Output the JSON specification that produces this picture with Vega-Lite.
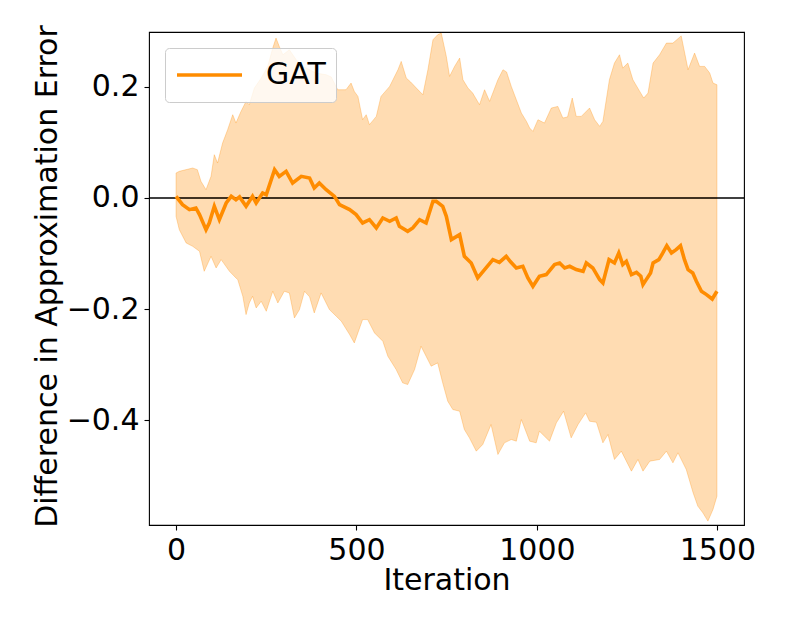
{
  "$schema": "https://vega.github.io/schema/vega-lite/v6.json",
  "width": 595,
  "height": 493,
  "autosize": {"type": "none"},
  "padding": {"left": 149, "top": 32, "right": 45, "bottom": 106},
  "background": "white",
  "config": {
    "font": "DejaVu Sans",
    "view": {"stroke": "black", "strokeWidth": 1.1},
    "axis": {
      "labelFont": "DejaVu Sans", "labelFontSize": 30, "labelColor": "black",
      "titleFont": "DejaVu Sans", "titleFontSize": 30, "titleFontWeight": "normal", "titleColor": "black",
      "tickColor": "black", "tickSize": 5, "tickWidth": 1.1, "labelPadding": 5,
      "grid": false, "domain": false
    },
    "legend": {
      "orient": "none", "legendX": 16, "legendY": 16,
      "symbolType": "stroke", "symbolSize": 4225, "symbolStrokeWidth": 3.6,
      "labelFont": "DejaVu Sans", "labelFontSize": 30, "labelColor": "black", "labelOffset": 22,
      "clipHeight": 34,
      "padding": 10, "strokeColor": "#cccccc", "fillColor": "rgba(255,255,255,0.8)", "cornerRadius": 4
    }
  },
  "datasets": {
    "upper": [
      {"iter":0,"value":0.045},{"iter":9,"value":0.048},{"iter":46,"value":0.054},{"iter":59,"value":0.051},
      {"iter":69,"value":0.030},{"iter":83,"value":0.015},{"iter":97,"value":0.039},{"iter":106,"value":0.078},
      {"iter":115,"value":0.063},{"iter":129,"value":0.099},{"iter":143,"value":0.123},{"iter":157,"value":0.150},
      {"iter":166,"value":0.135},{"iter":180,"value":0.156},{"iter":194,"value":0.174},{"iter":203,"value":0.168},
      {"iter":217,"value":0.198},{"iter":236,"value":0.216},{"iter":254,"value":0.237},{"iter":268,"value":0.270},
      {"iter":277,"value":0.288},{"iter":286,"value":0.273},{"iter":296,"value":0.258},{"iter":314,"value":0.267},
      {"iter":333,"value":0.249},{"iter":351,"value":0.237},{"iter":370,"value":0.231},{"iter":388,"value":0.225},
      {"iter":416,"value":0.222},{"iter":430,"value":0.218},{"iter":448,"value":0.195},{"iter":471,"value":0.195},
      {"iter":485,"value":0.207},{"iter":494,"value":0.192},{"iter":504,"value":0.183},{"iter":517,"value":0.141},
      {"iter":527,"value":0.150},{"iter":536,"value":0.132},{"iter":555,"value":0.147},{"iter":568,"value":0.183},
      {"iter":592,"value":0.201},{"iter":615,"value":0.231},{"iter":624,"value":0.246},{"iter":638,"value":0.216},
      {"iter":650,"value":0.209},{"iter":666,"value":0.198},{"iter":684,"value":0.186},{"iter":698,"value":0.231},
      {"iter":712,"value":0.285},{"iter":725,"value":0.294},{"iter":735,"value":0.297},{"iter":749,"value":0.255},
      {"iter":758,"value":0.219},{"iter":772,"value":0.237},{"iter":786,"value":0.252},{"iter":795,"value":0.213},
      {"iter":809,"value":0.198},{"iter":822,"value":0.189},{"iter":841,"value":0.168},{"iter":855,"value":0.195},
      {"iter":869,"value":0.174},{"iter":892,"value":0.213},{"iter":906,"value":0.231},{"iter":916,"value":0.227},
      {"iter":929,"value":0.201},{"iter":943,"value":0.177},{"iter":957,"value":0.153},{"iter":971,"value":0.138},
      {"iter":980,"value":0.126},{"iter":989,"value":0.120},{"iter":1003,"value":0.141},{"iter":1021,"value":0.135},
      {"iter":1040,"value":0.162},{"iter":1058,"value":0.165},{"iter":1072,"value":0.144},{"iter":1085,"value":0.146},
      {"iter":1098,"value":0.180},{"iter":1109,"value":0.147},{"iter":1123,"value":0.147},{"iter":1146,"value":0.162},
      {"iter":1160,"value":0.141},{"iter":1174,"value":0.129},{"iter":1183,"value":0.138},{"iter":1201,"value":0.213},
      {"iter":1215,"value":0.243},{"iter":1229,"value":0.258},{"iter":1238,"value":0.234},{"iter":1252,"value":0.243},
      {"iter":1266,"value":0.213},{"iter":1285,"value":0.192},{"iter":1296,"value":0.180},{"iter":1308,"value":0.189},
      {"iter":1322,"value":0.243},{"iter":1340,"value":0.258},{"iter":1359,"value":0.279},{"iter":1377,"value":0.279},
      {"iter":1400,"value":0.292},{"iter":1419,"value":0.231},{"iter":1437,"value":0.261},{"iter":1451,"value":0.237},
      {"iter":1465,"value":0.237},{"iter":1479,"value":0.225},{"iter":1488,"value":0.207},{"iter":1499,"value":0.204}
    ],
    "lower": [
      {"iter":0,"value":-0.033},{"iter":9,"value":-0.057},{"iter":28,"value":-0.081},{"iter":46,"value":-0.087},
      {"iter":65,"value":-0.096},{"iter":78,"value":-0.132},{"iter":97,"value":-0.105},{"iter":111,"value":-0.126},
      {"iter":125,"value":-0.111},{"iter":148,"value":-0.132},{"iter":166,"value":-0.144},{"iter":171,"value":-0.147},
      {"iter":185,"value":-0.177},{"iter":194,"value":-0.210},{"iter":203,"value":-0.189},{"iter":212,"value":-0.177},
      {"iter":222,"value":-0.198},{"iter":236,"value":-0.186},{"iter":250,"value":-0.204},{"iter":268,"value":-0.168},
      {"iter":282,"value":-0.189},{"iter":300,"value":-0.168},{"iter":314,"value":-0.171},{"iter":328,"value":-0.216},
      {"iter":342,"value":-0.201},{"iter":356,"value":-0.168},{"iter":370,"value":-0.178},{"iter":383,"value":-0.207},
      {"iter":402,"value":-0.171},{"iter":425,"value":-0.201},{"iter":444,"value":-0.213},{"iter":458,"value":-0.222},
      {"iter":481,"value":-0.246},{"iter":494,"value":-0.261},{"iter":517,"value":-0.219},{"iter":531,"value":-0.219},
      {"iter":550,"value":-0.243},{"iter":573,"value":-0.258},{"iter":587,"value":-0.285},{"iter":610,"value":-0.309},
      {"iter":628,"value":-0.333},{"iter":642,"value":-0.336},{"iter":661,"value":-0.309},{"iter":679,"value":-0.267},
      {"iter":693,"value":-0.285},{"iter":707,"value":-0.303},{"iter":725,"value":-0.297},{"iter":739,"value":-0.333},
      {"iter":753,"value":-0.366},{"iter":767,"value":-0.381},{"iter":786,"value":-0.384},{"iter":799,"value":-0.417},
      {"iter":813,"value":-0.432},{"iter":832,"value":-0.456},{"iter":850,"value":-0.444},{"iter":873,"value":-0.408},
      {"iter":892,"value":-0.462},{"iter":910,"value":-0.441},{"iter":929,"value":-0.435},{"iter":943,"value":-0.438},
      {"iter":957,"value":-0.399},{"iter":980,"value":-0.438},{"iter":998,"value":-0.441},{"iter":1007,"value":-0.420},
      {"iter":1035,"value":-0.438},{"iter":1054,"value":-0.405},{"iter":1074,"value":-0.384},{"iter":1095,"value":-0.432},
      {"iter":1114,"value":-0.408},{"iter":1135,"value":-0.387},{"iter":1146,"value":-0.402},{"iter":1165,"value":-0.404},
      {"iter":1183,"value":-0.441},{"iter":1197,"value":-0.426},{"iter":1215,"value":-0.471},{"iter":1234,"value":-0.456},
      {"iter":1262,"value":-0.492},{"iter":1280,"value":-0.471},{"iter":1294,"value":-0.492},{"iter":1313,"value":-0.474},
      {"iter":1340,"value":-0.471},{"iter":1359,"value":-0.456},{"iter":1377,"value":-0.477},{"iter":1391,"value":-0.459},
      {"iter":1414,"value":-0.489},{"iter":1433,"value":-0.531},{"iter":1446,"value":-0.555},{"iter":1460,"value":-0.567},
      {"iter":1474,"value":-0.582},{"iter":1488,"value":-0.561},{"iter":1499,"value":-0.537}
    ],
    "mean": [
      {"iter":0,"value":0.003},{"iter":18,"value":-0.012},{"iter":37,"value":-0.021},{"iter":55,"value":-0.018},
      {"iter":65,"value":-0.030},{"iter":83,"value":-0.057},{"iter":92,"value":-0.045},{"iter":106,"value":-0.015},
      {"iter":120,"value":-0.039},{"iter":139,"value":-0.009},{"iter":153,"value":0.003},{"iter":166,"value":-0.003},
      {"iter":176,"value":0.002},{"iter":194,"value":-0.015},{"iter":212,"value":0.003},{"iter":222,"value":-0.009},
      {"iter":240,"value":0.009},{"iter":250,"value":0.006},{"iter":273,"value":0.051},{"iter":286,"value":0.039},
      {"iter":305,"value":0.048},{"iter":323,"value":0.027},{"iter":347,"value":0.039},{"iter":370,"value":0.036},
      {"iter":383,"value":0.018},{"iter":397,"value":0.027},{"iter":416,"value":0.015},{"iter":439,"value":0.003},
      {"iter":453,"value":-0.012},{"iter":481,"value":-0.021},{"iter":499,"value":-0.030},{"iter":517,"value":-0.045},
      {"iter":536,"value":-0.039},{"iter":555,"value":-0.054},{"iter":573,"value":-0.036},{"iter":592,"value":-0.042},
      {"iter":610,"value":-0.036},{"iter":619,"value":-0.051},{"iter":642,"value":-0.060},{"iter":656,"value":-0.054},
      {"iter":675,"value":-0.039},{"iter":693,"value":-0.045},{"iter":712,"value":-0.006},{"iter":721,"value":-0.006},
      {"iter":739,"value":-0.015},{"iter":749,"value":-0.033},{"iter":763,"value":-0.075},{"iter":786,"value":-0.066},
      {"iter":799,"value":-0.105},{"iter":818,"value":-0.117},{"iter":836,"value":-0.144},{"iter":855,"value":-0.129},
      {"iter":878,"value":-0.111},{"iter":896,"value":-0.116},{"iter":915,"value":-0.105},{"iter":927,"value":-0.115},
      {"iter":943,"value":-0.126},{"iter":961,"value":-0.123},{"iter":975,"value":-0.144},{"iter":989,"value":-0.159},
      {"iter":1007,"value":-0.141},{"iter":1026,"value":-0.138},{"iter":1049,"value":-0.120},{"iter":1063,"value":-0.117},
      {"iter":1077,"value":-0.126},{"iter":1091,"value":-0.123},{"iter":1109,"value":-0.129},{"iter":1128,"value":-0.132},
      {"iter":1137,"value":-0.117},{"iter":1155,"value":-0.126},{"iter":1174,"value":-0.147},{"iter":1183,"value":-0.153},
      {"iter":1200,"value":-0.111},{"iter":1215,"value":-0.117},{"iter":1227,"value":-0.099},{"iter":1238,"value":-0.120},
      {"iter":1248,"value":-0.114},{"iter":1262,"value":-0.138},{"iter":1276,"value":-0.134},{"iter":1288,"value":-0.141},
      {"iter":1294,"value":-0.156},{"iter":1303,"value":-0.147},{"iter":1315,"value":-0.135},{"iter":1322,"value":-0.117},
      {"iter":1338,"value":-0.111},{"iter":1349,"value":-0.099},{"iter":1360,"value":-0.086},{"iter":1373,"value":-0.099},
      {"iter":1386,"value":-0.093},{"iter":1398,"value":-0.086},{"iter":1409,"value":-0.111},{"iter":1419,"value":-0.129},
      {"iter":1432,"value":-0.135},{"iter":1442,"value":-0.150},{"iter":1456,"value":-0.168},{"iter":1470,"value":-0.174},
      {"iter":1486,"value":-0.182},{"iter":1499,"value":-0.168}
    ],
    "zero": [{"value": 0}]
  },
  "layer": [
    {
      "data": {"name": "upper"},
      "mark": {"type": "area", "fill": "#ff8c00", "fillOpacity": 0.3, "stroke": "#ff8c00", "strokeOpacity": 0.3, "strokeWidth": 1},
      "encoding": {
        "x": {"field": "iter", "type": "quantitative", "title": "Iteration",
              "scale": {"domain": [-75, 1574], "nice": false, "zero": false},
              "axis": {"values": [0, 500, 1000, 1500], "format": "d", "titleY": 64, "titleBaseline": "alphabetic"}},
        "y": {"field": "value", "type": "quantitative", "title": "Difference in Approximation Error",
              "scale": {"domain": [-0.589, 0.299], "nice": false, "zero": false},
              "axis": {"values": [-0.4, -0.2, 0, 0.2], "format": ".1f", "titleX": -93, "titleY": 244, "titleAngle": 270, "titleBaseline": "alphabetic", "titleAlign": "center"}},
        "y2": {"datum": 0}
      }
    },
    {
      "data": {"name": "lower"},
      "mark": {"type": "area", "fill": "#ff8c00", "fillOpacity": 0.3, "stroke": "#ff8c00", "strokeOpacity": 0.3, "strokeWidth": 1},
      "encoding": {
        "x": {"field": "iter", "type": "quantitative", "title": "Iteration"},
        "y": {"field": "value", "type": "quantitative", "title": "Difference in Approximation Error"},
        "y2": {"datum": 0}
      }
    },
    {
      "data": {"name": "zero"},
      "mark": {"type": "rule", "color": "black", "strokeWidth": 1.5},
      "encoding": {
        "y": {"field": "value", "type": "quantitative", "title": "Difference in Approximation Error"}
      }
    },
    {
      "data": {"name": "mean"},
      "mark": {"type": "line", "strokeWidth": 3.6},
      "encoding": {
        "x": {"field": "iter", "type": "quantitative", "title": "Iteration"},
        "y": {"field": "value", "type": "quantitative", "title": "Difference in Approximation Error"},
        "color": {"datum": "GAT", "scale": {"range": ["#ff8c00"]}, "legend": {"title": null}}
      }
    }
  ]
}
